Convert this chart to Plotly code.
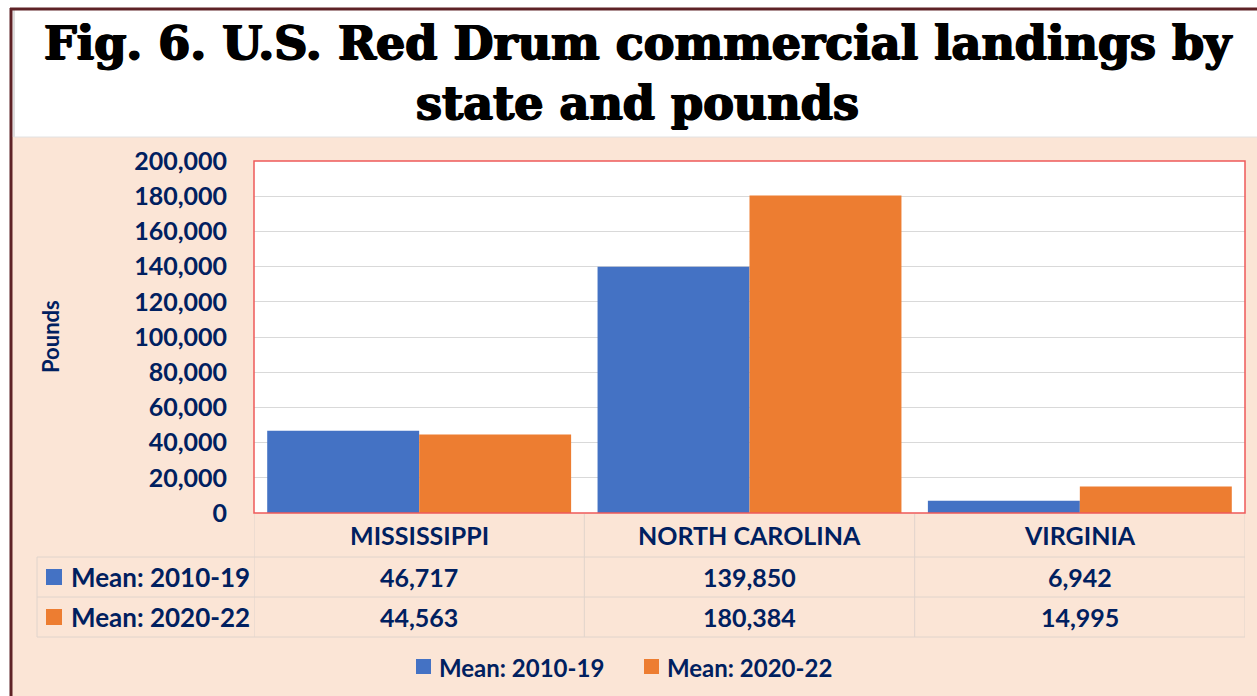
import plotly.graph_objects as go

# data
STATES = ["MISSISSIPPI", "NORTH CAROLINA", "VIRGINIA"]
SERIES = ["Mean: 2010-19", "Mean: 2020-22"]
MEAN_2010_19 = [46717, 139850, 6942]
MEAN_2020_22 = [44563, 180384, 14995]
Y_TICKS = [0, 20000, 40000, 60000, 80000, 100000, 120000, 140000, 160000, 180000, 200000]

W, H = 1257, 696
C = dict(page="#fbe5d6", ink="#002060", blue="#4472c4", orange="#ed7d31",
         grid="#d9d9d9", red="#ee5a5a", tline="#e0d4cc", frame="#5e2226")
FONT = "Lato"


def px(x):
    return x / W


def py(y):
    return 1 - y / H


X0, X1, Y_TOP, Y_BOT = 254, 1245, 161, 513
values = [MEAN_2010_19, MEAN_2020_22]
colors = [C["blue"], C["orange"]]

fig = go.Figure()
for name, vals, col in zip(SERIES, values, colors):
    fig.add_trace(go.Bar(x=STATES, y=vals, name=name, marker=dict(color=col, line=dict(width=0)),
                         showlegend=False))

shapes = [
    # white title band + frame
    dict(type="rect", xref="paper", yref="paper", x0=0, x1=1, y0=py(137), y1=1,
         fillcolor="white", line=dict(width=0), layer="below"),
    dict(type="rect", xref="paper", yref="paper", x0=0, x1=px(10), y0=0, y1=1,
         fillcolor="white", line=dict(width=0), layer="below"),
    dict(type="line", xref="paper", yref="paper", x0=px(14), x1=px(14), y0=py(137), y1=py(10),
         line=dict(color="#bdbdbd", width=1)),
    dict(type="line", xref="paper", yref="paper", x0=px(14), x1=1, y0=py(137), y1=py(137),
         line=dict(color="#e2e2e2", width=1)),
    dict(type="line", xref="paper", yref="paper", x0=px(11), x1=px(11), y0=0, y1=py(8),
         line=dict(color=C["frame"], width=3)),
    dict(type="line", xref="paper", yref="paper", x0=px(10), x1=1, y0=py(9), y1=py(9),
         line=dict(color=C["frame"], width=3)),
    # plot border
    dict(type="rect", xref="paper", yref="paper", x0=px(X0), x1=px(X1), y0=py(Y_BOT), y1=py(Y_TOP),
         line=dict(color=C["red"], width=1.5)),
]

# data table lines
for b in [-0.5, 0.5, 1.5, 2.5]:
    shapes.append(dict(type="line", xref="x", yref="paper", x0=b, x1=b, y0=py(637), y1=py(Y_BOT + 1),
                       line=dict(color=C["tline"], width=1)))
shapes.append(dict(type="line", xref="paper", yref="paper", x0=px(37), x1=px(37), y0=py(637), y1=py(557),
                   line=dict(color=C["tline"], width=1)))
for yy in [557, 597, 637]:
    shapes.append(dict(type="line", xref="paper", yref="paper", x0=px(37), x1=px(X1), y0=py(yy), y1=py(yy),
                       line=dict(color=C["tline"], width=1)))


def label(text, x, y, font, xref="paper", xanchor="center", **kw):
    return dict(text=text, xref=xref, yref="paper", x=x, y=y, xanchor=xanchor, yanchor="middle",
                showarrow=False, font=font, **kw)


annotations = [
    label("Fig. 6. U.S. Red Drum commercial landings by<br>state and pounds", px(638), py(73),
          dict(family="DejaVu Serif", size=46, color="black", weight="bold",
               shadow="1px 0px 0px black, -1px 0px 0px black, 0px 1px 0px black"), align="center"),
    label("Pounds", px(50), py(337), dict(family=FONT, size=22, color=C["ink"], weight="bold"),
          textangle=-90),
]
tfont = dict(family=FONT, size=25, color=C["ink"], weight="bold")
rfont = dict(family=FONT, size=26, color=C["ink"], weight="bold")
for i, s in enumerate(STATES):
    annotations.append(label(s, i, py(535), tfont, xref="x"))
    for vals, yy in zip(values, [577, 617]):
        annotations.append(label(f"{vals[i]:,}", i, py(yy), tfont, xref="x"))
for name, col, yy in zip(SERIES, colors, [577, 617]):
    shapes.append(dict(type="rect", xref="paper", yref="paper", x0=px(46), x1=px(62), y0=py(yy + 8),
                       y1=py(yy - 8), fillcolor=col, line=dict(width=0)))
    annotations.append(label(name, px(69), py(yy), rfont, xanchor="left"))

# legend
for name, col, lx in zip(SERIES, colors, [416, 644]):
    shapes.append(dict(type="rect", xref="paper", yref="paper", x0=px(lx), x1=px(lx + 15), y0=py(674),
                       y1=py(659), fillcolor=col, line=dict(width=0)))
    annotations.append(label(name, px(lx + 21), py(667),
                             dict(family=FONT, size=24, color=C["ink"], weight="bold"), xanchor="left"))

fig.update_layout(
    width=W, height=H, margin=dict(l=0, r=0, t=0, b=0, pad=0, autoexpand=False),
    paper_bgcolor=C["page"], plot_bgcolor="white",
    barmode="group", bargap=0.08, bargroupgap=0,
    xaxis=dict(domain=[px(X0), px(X1)], showticklabels=False, showgrid=False, zeroline=False,
               range=[-0.5, 2.5], automargin=False),
    yaxis=dict(domain=[py(Y_BOT), py(Y_TOP)], range=[0, 200000], tickvals=Y_TICKS,
               tickformat=",", ticks="", ticklabelstandoff=26, gridcolor=C["grid"], gridwidth=1,
               zeroline=False, tickfont=tfont, automargin=False),
    shapes=shapes, annotations=annotations, showlegend=False,
)

# page body has a default 8px margin; drop it so the figure fills the window
fig.write_html("out.html", config=dict(displayModeBar=False),
               post_script="document.body.style.margin='0';")
